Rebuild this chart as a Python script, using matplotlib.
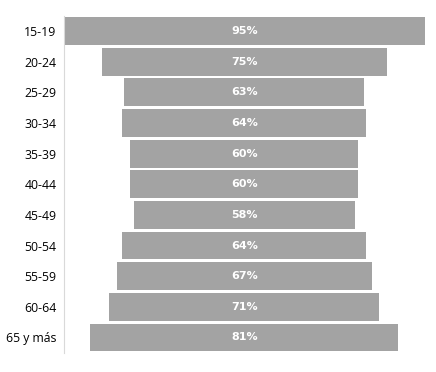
import matplotlib
matplotlib.use("Agg")
import matplotlib.pyplot as plt

categories = ["15-19", "20-24", "25-29", "30-34", "35-39", "40-44", "45-49",
              "50-54", "55-59", "60-64", "65 y más"]
values = [95, 75, 63, 64, 60, 60, 58, 64, 67, 71, 81]
labels = [f"{v}%" for v in values]

fig = plt.figure(figsize=(4.36, 3.72), dpi=100)
ax = fig.add_axes([63.5/436, 1-352.8/372, (426-63.5)/436, (352.8-15.7)/372])

y = list(range(len(categories)))
lefts = [-v/2 for v in values]
ax.barh(y, values, left=lefts, height=0.91, color="#a3a3a3")
for yi, lab in zip(y, labels):
    ax.text(0, yi, lab, ha="center", va="center", color="white",
            fontsize=8, fontweight="bold", family="DejaVu Sans")

ax.set_xlim(-47.5, 47.76)
ax.set_ylim(len(categories)-0.5, -0.5)
ax.set_yticks(y)
ax.set_yticklabels(categories, fontsize=8.8, family="Open Sans")
ax.tick_params(axis="y", length=0, pad=5)
ax.set_xticks([])
for s in ["top", "right", "bottom"]:
    ax.spines[s].set_visible(False)
ax.spines["left"].set_color("#d9d9d9")
ax.spines["left"].set_linewidth(0.8)

fig.savefig("out.png", dpi=100)
